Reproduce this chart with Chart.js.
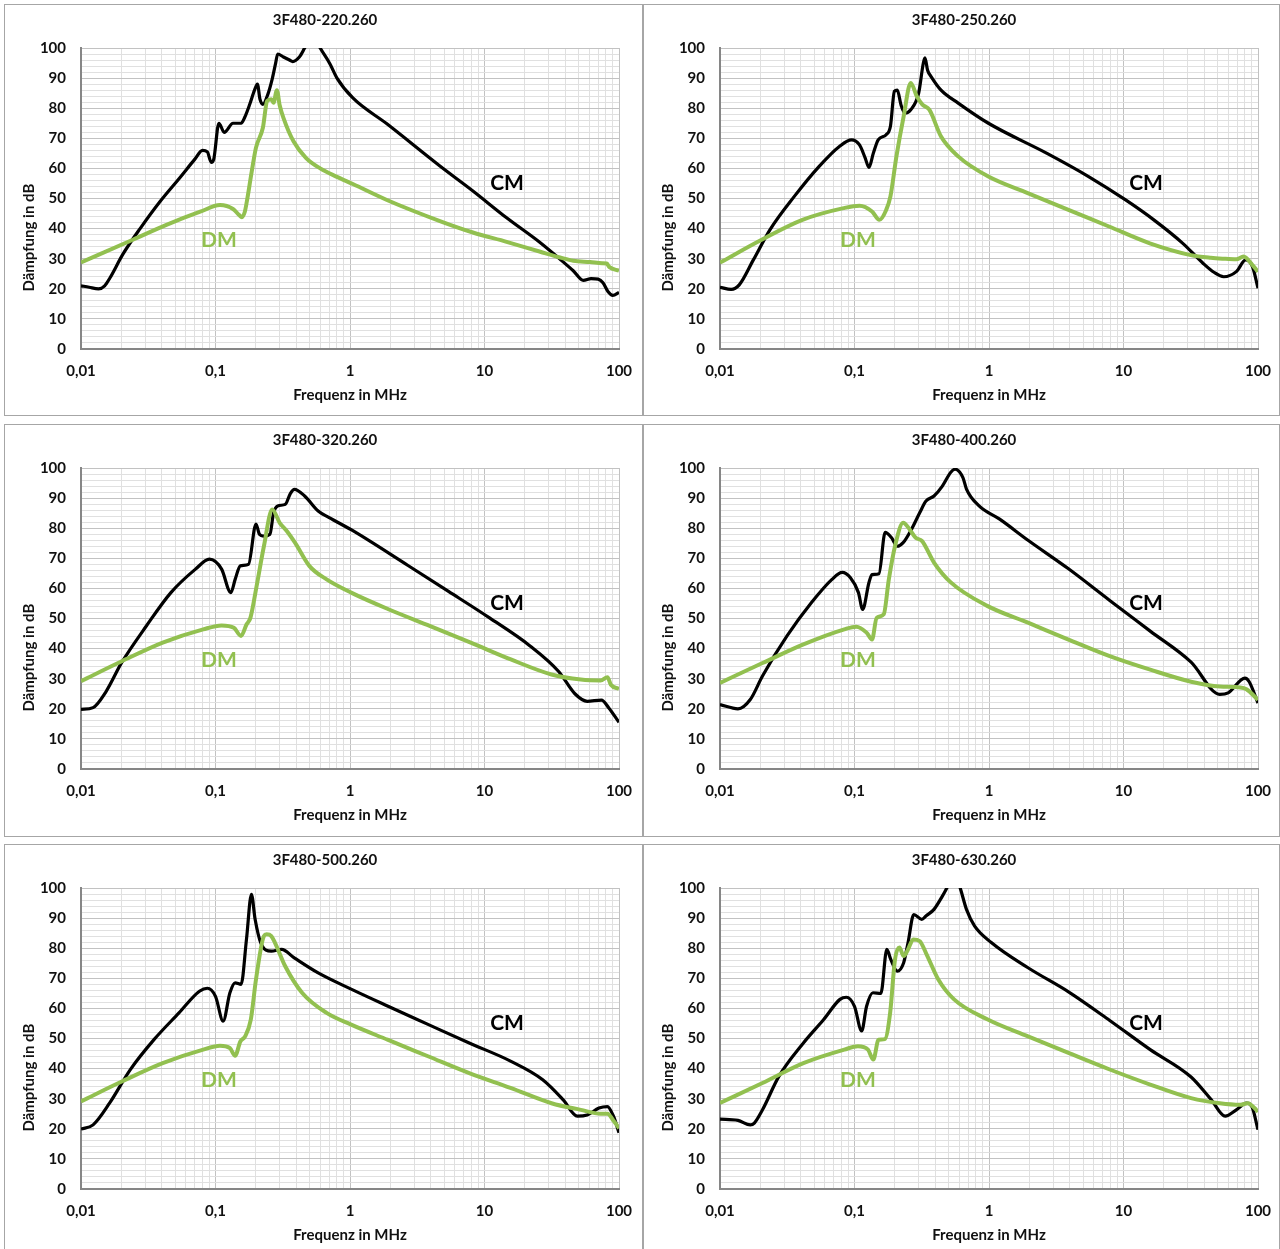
<!DOCTYPE html>
<html><head><meta charset="utf-8">
<script src="https://cdn.jsdelivr.net/npm/chart.js@4.4.0/dist/chart.umd.min.js"></script>
<style>
html,body{margin:0;padding:0;background:#fff;overflow:hidden;width:1280px;height:1249px;}
.panel{position:absolute;border:1px solid #a6a6a6;overflow:hidden;}
.panel canvas{display:block;}
</style></head><body>
<div class="panel" style="left:4px;top:4px;width:637px;height:410px"><canvas id="c0" width="637" height="410"></canvas></div>
<div class="panel" style="left:643px;top:4px;width:635px;height:410px"><canvas id="c1" width="635" height="410"></canvas></div>
<div class="panel" style="left:4px;top:424px;width:637px;height:411px"><canvas id="c2" width="637" height="410"></canvas></div>
<div class="panel" style="left:643px;top:424px;width:635px;height:411px"><canvas id="c3" width="635" height="410"></canvas></div>
<div class="panel" style="left:4px;top:844px;width:637px;height:410px"><canvas id="c4" width="637" height="410"></canvas></div>
<div class="panel" style="left:643px;top:844px;width:635px;height:410px"><canvas id="c5" width="635" height="410"></canvas></div>
<script>
// ---------- data (frequency in MHz, attenuation in dB) ----------
const TITLES = ['3F480-220.260','3F480-250.260','3F480-320.260','3F480-400.260','3F480-500.260','3F480-630.260'];
const X_TICK_VALUES = [0.01, 0.1, 1, 10, 100];
const X_TICK_LABELS = ['0,01', '0,1', '1', '10', '100'];
const X_TITLE = 'Frequenz in MHz';
const Y_TITLE = 'Dämpfung in dB';
const SERIES_NAMES = ['CM', 'DM'];

const CM1_F  = [0.01,0.0115,0.0135,0.015,0.0164,0.0205,0.0275,0.0387,0.0545,0.07,0.08,0.087,0.093,0.097,0.106,0.116,0.135,0.155,0.165,0.18,0.195,0.205,0.214,0.225,0.245,0.265,0.28,0.29,0.32,0.355,0.375,0.42,0.46,0.5,0.55,0.6,0.71,0.8,1.05,1.88,4.66,8.2,14.6,26,36.5,45.7,54.3,62,70,76,83,90,100];
const CM1_DB = [21,20.5,20,21,23.6,31.5,40,49,57,63,66,65.5,62,63,75,72,75,75,77,81.4,86,88,83,81.3,84.6,90,95,98,97,96,95.5,97,100,103,103,100,94.7,90,83.4,74.8,60.8,52.5,43.6,35.3,29.8,26,22.8,23.4,23.2,22,19,17.8,18.8];
const DM1_F  = [0.01,0.0243,0.0436,0.077,0.108,0.135,0.15,0.157,0.165,0.171,0.186,0.2,0.225,0.242,0.26,0.27,0.286,0.3,0.32,0.38,0.47,0.6,0.8,1.05,1.88,4.66,8.2,14.6,26,36.5,45.7,61,75,81,85,100];
const DM1_DB = [28.8,36.3,41.3,45.6,47.8,46.5,44.5,43.8,45.5,49,59,66.9,73.5,82.4,83,81.8,86,81,76.8,69,63.5,60,57.2,54.8,49.5,42.5,38.7,35.6,32.3,30.4,29.3,28.9,28.5,28.4,27.2,26];

const CM2_F  = [0.01,0.0121,0.0139,0.0177,0.0235,0.0357,0.0544,0.0772,0.095,0.109,0.12,0.128,0.138,0.15,0.172,0.185,0.198,0.208,0.222,0.237,0.262,0.3,0.325,0.334,0.35,0.37,0.44,0.59,0.99,2.7,5.5,10.3,16.8,27.6,39,47,55.6,69,81,91,100];
const CM2_DB = [20.5,19.8,21.3,29.6,39.6,50.7,60.6,67.3,69.5,67.8,63.5,60.3,65,69.5,71.2,74,85.6,86,81,78.4,79.5,85,95,96.7,92.5,90.6,86,81.7,75,65,57.3,49.6,42.9,35.1,28.5,25.5,24,25.7,29.6,27.4,20.2];
const DM2_F  = [0.01,0.0204,0.041,0.083,0.109,0.135,0.153,0.172,0.185,0.205,0.232,0.262,0.29,0.32,0.36,0.44,0.59,0.99,1.94,3.9,7.8,15.7,31.6,44.6,55,69,78,91,100];
const DM2_DB = [28.7,36.3,42.9,46.8,47.6,45.7,42.9,46.2,50.7,64,77.3,88.4,84,81.2,79.5,70.6,64,57.3,51.8,46.2,40.7,35.1,31.2,30.3,30,29.8,30.7,27.9,25.7];

const CM3_F  = [0.01,0.0123,0.0152,0.0201,0.0306,0.0466,0.071,0.09,0.111,0.13,0.14,0.153,0.176,0.2,0.212,0.228,0.254,0.27,0.29,0.33,0.36,0.386,0.46,0.58,0.7,1.02,2.7,5.4,10.9,21.8,35.6,47,58,74,84,100];
const CM3_DB = [19.8,20.4,25.4,35.4,47.5,58.6,66.4,69.7,66.4,58.6,63,67.5,68,81.4,78,77.4,78,85,87.4,87.9,91.5,92.9,90.7,85.7,83.5,79.5,67.6,59,50.2,40.9,32.4,25,22.5,22.9,20.3,15.5];
const DM3_F  = [0.01,0.0201,0.0405,0.081,0.111,0.137,0.155,0.17,0.182,0.202,0.229,0.264,0.3,0.34,0.39,0.5,0.67,1.02,1.95,3.95,7.9,15.7,31.5,52,73,82,87,100];
const DM3_DB = [29.2,35.8,42,46.4,47.7,46.9,44.2,48,50.3,60.7,74,86.2,81.8,79,75.2,67.4,63,58.6,53,47.5,42,36.4,31.4,29.7,29.4,30.5,28,26.6];

const CM4_F  = [0.01,0.0136,0.0168,0.0207,0.0315,0.0479,0.068,0.081,0.093,0.107,0.115,0.128,0.135,0.152,0.169,0.188,0.208,0.23,0.265,0.306,0.34,0.39,0.45,0.52,0.56,0.64,0.68,0.84,1.2,1.95,3.9,7.9,15.8,31.8,52,60,80,86,100];
const CM4_DB = [21.4,20,23.1,30.9,44.2,55.3,63,65.3,63.6,58.6,53,61.9,64.6,64.9,78.6,76.9,74,75.2,79.6,85.2,89,90.7,94,98.6,99.6,96.8,93,87.5,83,76,66.5,56,45.8,35.5,24.8,25.3,30.2,29,21.9];
const DM4_F  = [0.01,0.0207,0.0417,0.084,0.103,0.123,0.135,0.146,0.165,0.18,0.2,0.23,0.257,0.285,0.317,0.39,0.52,0.97,1.95,3.9,7.9,15.8,31.8,52,74,82,100];
const DM4_DB = [28.6,35.2,41.4,46.4,47.3,45.3,43,50.2,51.4,63,74,81.8,79.6,76.8,75.8,68.6,62,54.2,48.6,43,37.5,33,29,27.4,27.1,26.5,23];

const CM5_F  = [0.01,0.0123,0.0163,0.0232,0.035,0.0535,0.076,0.087,0.1,0.114,0.128,0.14,0.155,0.17,0.185,0.197,0.217,0.26,0.31,0.385,0.58,1.02,1.9,3.8,7.7,15.6,27.1,38.5,49,58,71,82,91,100];
const CM5_DB = [19.9,21.3,28.5,39.6,49.7,58.5,65.7,66.7,64,55.8,65.2,68.5,68,83,97.9,89.6,81.8,79,79.6,76.8,71.8,66.4,60.8,54.7,48.5,42.5,36.3,29.6,24.2,24.6,26.9,27.4,24.2,18.7];
const DM5_F  = [0.01,0.0201,0.0405,0.081,0.108,0.128,0.14,0.153,0.166,0.183,0.2,0.229,0.24,0.26,0.277,0.33,0.44,0.67,1.02,1.9,3.8,7.7,15.6,31.5,52,73,82,92,100];
const DM5_DB = [29.1,35.7,41.8,46.3,47.6,46.8,44.3,49,50.7,56.3,69.6,84,84.6,84,81.8,74,65.2,58.5,54.6,49.6,44.1,38.5,33.6,28.5,26.3,25,25,22.4,20.2];

const CM6_F  = [0.01,0.0136,0.0168,0.018,0.0207,0.0274,0.0417,0.059,0.078,0.087,0.1,0.113,0.123,0.137,0.157,0.174,0.186,0.208,0.232,0.25,0.276,0.316,0.34,0.39,0.45,0.5,0.55,0.6,0.68,0.78,1.04,1.95,3.9,7.9,15.8,31.8,45,57,69,82,90,100];
const CM6_DB = [23.2,22.8,21.3,21.9,26.3,37.4,48.5,56.3,63,63.7,60.7,52.5,60.7,65.2,65,79.6,76.3,72.4,75.2,81.8,91.2,89.6,90.7,92.9,97.3,101,104,101,92.9,87.4,81.9,73.5,65.5,56,46.3,37.2,29.6,24.2,26.3,28.5,27.4,19.7];
const DM6_F  = [0.01,0.0207,0.0417,0.084,0.106,0.126,0.138,0.151,0.168,0.184,0.2,0.216,0.232,0.25,0.273,0.306,0.34,0.42,0.55,0.97,1.95,3.9,7.9,15.8,31.8,52,74,84,100];
const DM6_DB = [28.6,35.2,41.8,46.3,47.4,46.3,43,49.6,49.8,58.5,76.2,80.2,77.4,79.6,82.9,82.3,78.4,69.6,63,56.4,50.7,45.2,39.7,34.7,30.2,28.5,28,28.5,25.7];

// label anchor positions in data coordinates [MHz, dB]
const CM_LABEL_AT = [14.7, 55];
const DM_LABEL_AT = [0.106, 36.2];

// ---------- styles ----------
const CM_COLOR = '#000000';
const DM_COLOR = '#92c050';
const TEXT_COLOR = '#111111';
const GRID_MAJOR = '#c2c2c2';
const GRID_MINOR = '#e0e0e0';
const AXIS_COLOR = '#868686';
const FONT = "Lato, 'Open Sans', sans-serif";
Chart.defaults.font.family = FONT;

const PANELS = [
  [CM1_F, CM1_DB, DM1_F, DM1_DB],
  [CM2_F, CM2_DB, DM2_F, DM2_DB],
  [CM3_F, CM3_DB, DM3_F, DM3_DB],
  [CM4_F, CM4_DB, DM4_F, DM4_DB],
  [CM5_F, CM5_DB, DM5_F, DM5_DB],
  [CM6_F, CM6_DB, DM6_F, DM6_DB]
];

function pts(f, v) { return f.map((x, i) => ({x: x, y: v[i]})); }
function isDecade(v) { const l = Math.log10(v); return Math.abs(l - Math.round(l)) < 1e-6; }
function xTickList() {
  const out = [];
  for (let e = -2; e <= 1; e++) for (let k = 1; k <= 9; k++) out.push(+(k * Math.pow(10, e)).toPrecision(6));
  out.push(100);
  return out;
}

const extras = {
  id: 'extras',
  afterDatasetsDraw(chart) {
    const {ctx, scales: {x, y}} = chart;
    ctx.save();
    ctx.textAlign = 'center';
    ctx.textBaseline = 'middle';
    ctx.font = 'bold 21px ' + FONT;
    ctx.fillStyle = CM_COLOR;
    ctx.fillText(SERIES_NAMES[0], x.getPixelForValue(CM_LABEL_AT[0]), y.getPixelForValue(CM_LABEL_AT[1]));
    ctx.fillStyle = DM_COLOR;
    ctx.fillText(SERIES_NAMES[1], x.getPixelForValue(DM_LABEL_AT[0]), y.getPixelForValue(DM_LABEL_AT[1]));
    ctx.font = 'bold 15px ' + FONT;
    ctx.fillStyle = TEXT_COLOR;
    ctx.translate(24, y.getPixelForValue(37));
    ctx.rotate(-Math.PI / 2);
    ctx.fillText(Y_TITLE, 0, 0);
    ctx.restore();
  }
};

PANELS.forEach((p, i) => {
  const cv = document.getElementById('c' + i);
  new Chart(cv, {
    type: 'scatter',
    data: {
      datasets: [
        {label: SERIES_NAMES[1], data: pts(p[2], p[3]), showLine: true, borderColor: DM_COLOR, borderWidth: 4, pointRadius: 0, fill: false, cubicInterpolationMode: 'monotone'},
        {label: SERIES_NAMES[0], data: pts(p[0], p[1]), showLine: true, borderColor: CM_COLOR, borderWidth: 3.2, pointRadius: 0, fill: false, cubicInterpolationMode: 'monotone'}
      ]
    },
    options: {
      responsive: false,
      animation: false,
      events: [],
      layout: {padding: {left: 26, top: 0, bottom: 0, right: cv.width - 614}},
      plugins: {
        legend: {display: false},
        tooltip: {enabled: false},
        title: {display: true, text: TITLES[i], color: TEXT_COLOR, font: {size: 15, weight: 'bold'}, padding: {top: 6, bottom: 19}}
      },
      scales: {
        x: {
          type: 'logarithmic', min: 0.01, max: 100, position: 'bottom',
          afterBuildTicks: s => { s.ticks = xTickList().map(v => ({value: v})); },
          afterFit: s => { s.height = 66; s.paddingLeft = 0; s.paddingRight = 0; },
          ticks: {
            autoSkip: false, maxRotation: 0, padding: 13, color: TEXT_COLOR,
            font: {size: 15, weight: 'bold'},
            callback: v => { const k = X_TICK_VALUES.findIndex(t => Math.abs(t - v) / t < 1e-6); return k >= 0 ? X_TICK_LABELS[k] : ''; }
          },
          grid: {drawTicks: false, color: c => (c.tick && isDecade(c.tick.value)) ? GRID_MAJOR : GRID_MINOR, lineWidth: 1},
          border: {color: AXIS_COLOR, width: 2},
          title: {display: true, text: X_TITLE, color: TEXT_COLOR, font: {size: 15, weight: 'bold'}, padding: {top: 0, bottom: 11}}
        },
        y: {
          type: 'linear', min: 0, max: 100,
          afterFit: s => { s.width = 50; },
          ticks: {
            stepSize: 2, autoSkip: false, padding: 15, color: TEXT_COLOR,
            font: {size: 15, weight: 'bold'},
            callback: v => (v % 10 === 0 ? String(v) : '')
          },
          grid: {drawTicks: false, color: c => (c.tick && c.tick.value % 10 === 0) ? GRID_MAJOR : GRID_MINOR, lineWidth: 1},
          border: {color: AXIS_COLOR, width: 2},
          title: {display: false}
        }
      }
    },
    plugins: [extras]
  });
});
</script>
</body></html>
